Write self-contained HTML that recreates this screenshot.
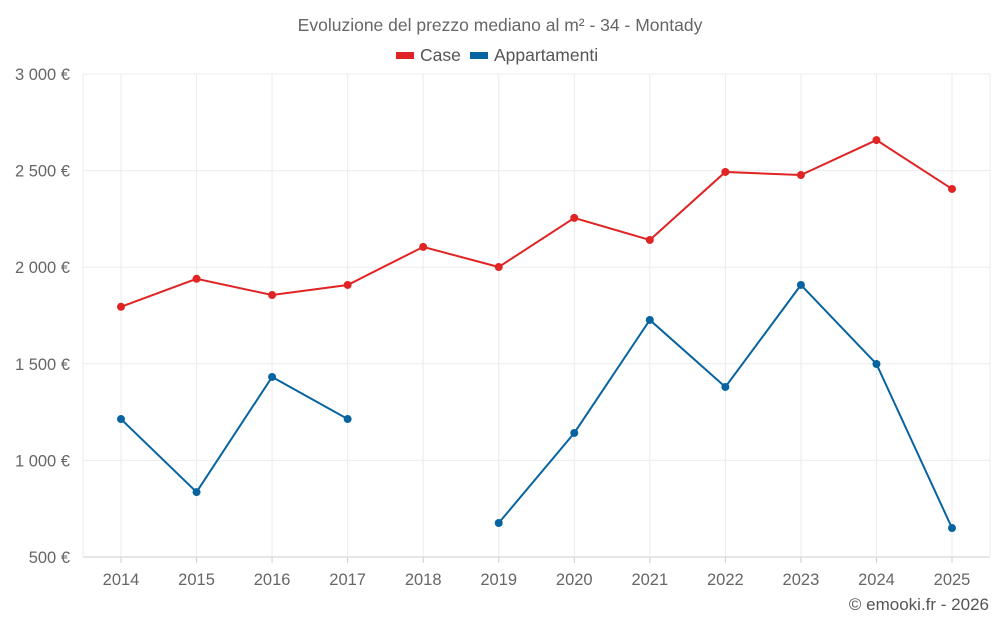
<!DOCTYPE html>
<html><head><meta charset="utf-8"><style>
body{margin:0;background:#fff;width:1000px;height:625px;overflow:hidden;font-family:"Liberation Sans",sans-serif}
</style></head><body>
<svg id="chart" width="1000" height="625" xmlns="http://www.w3.org/2000/svg" font-family="Liberation Sans, sans-serif">
<text x="500" y="31" text-anchor="middle" font-size="17.5" fill="#666">Evoluzione del prezzo mediano al m² - 34 - Montady</text>
<g><rect x="396" y="52" width="18" height="7" fill="#e02424"/><text x="420" y="61" font-size="17.5" fill="#555">Case</text></g>
<g><rect x="470" y="52" width="18" height="7" fill="#0864a0"/><text x="494" y="61" font-size="17.5" fill="#555">Appartamenti</text></g>
<g id="grid"></g><g id="axes"></g><g id="series"></g>
<text x="989" y="610" text-anchor="end" font-size="17" fill="#555">© emooki.fr - 2026</text>
</svg>
<script>
const years=[2014,2015,2016,2017,2018,2019,2020,2021,2022,2023,2024,2025];
const caseValues=[1795,1940,1856,1908,2105,2001,2255,2141,2493,2477,2658,2405];
const appValues=[1214,836,1432,1214,null,676,1142,1727,1380,1908,1499,650];
const yTicks=[500,1000,1500,2000,2500,3000];
const yTickLabels=["500 €","1 000 €","1 500 €","2 000 €","2 500 €","3 000 €"];
const NS="http://www.w3.org/2000/svg";
const x0=121,x1=952,yTop=74,yBot=557,yMin=500,yMax=3000;
const xs=i=>x0+i*(x1-x0)/(years.length-1);
const ys=v=>yBot-(v-yMin)/(yMax-yMin)*(yBot-yTop);
function mk(tag,attrs,parent){const e=document.createElementNS(NS,tag);for(const k in attrs)e.setAttribute(k,attrs[k]);document.getElementById(parent).appendChild(e);return e;}
yTicks.forEach((t,i)=>{
 const l=mk('line',{x1:83,x2:990,y1:ys(t),y2:ys(t),stroke:i==0?'#ccc':'#ebebeb'},'grid');
 
 
 const tx=mk('text',{x:70,y:ys(t)+6,'text-anchor':'end','font-size':16.5,fill:'#666'},'axes');
 tx.textContent=yTickLabels[i];
 
 
});
[83,990].forEach(x=>{const l=mk('line',{x1:x,x2:x,y1:yTop,y2:yBot,stroke:'#ebebeb'},'grid');
 
 });
years.forEach((y,i)=>{
 const l=mk('line',{x1:xs(i),x2:xs(i),y1:yTop,y2:yBot,stroke:'#ebebeb'},'grid');
 
 
 const tk=mk('line',{x1:xs(i),x2:xs(i),y1:yBot,y2:yBot+6,stroke:'#ccc'},'axes');
 
 
 const tx=mk('text',{x:xs(i),y:585,'text-anchor':'middle','font-size':16.5,fill:'#666'},'axes');
 tx.textContent=y;
 
 
});
function drawSeries(vals,color,name){
 let segs=[],cur=[];
 vals.forEach((v,i)=>{if(v==null){if(cur.length)segs.push(cur);cur=[];}else cur.push([xs(i),ys(v)]);});
 if(cur.length)segs.push(cur);
 segs.forEach(s=>{const p=mk('polyline',{points:s.map(q=>q.join(',')).join(' '),fill:'none',stroke:color,'stroke-width':2},'series');
  
  });
 vals.forEach((v,i)=>{if(v==null)return;const c=mk('circle',{cx:xs(i),cy:ys(v),r:4,fill:color},'series');
  
  });
}
drawSeries(caseValues,'#e02424','case');
drawSeries(appValues,'#0864a0','appartamenti');
</script>
</body></html>
